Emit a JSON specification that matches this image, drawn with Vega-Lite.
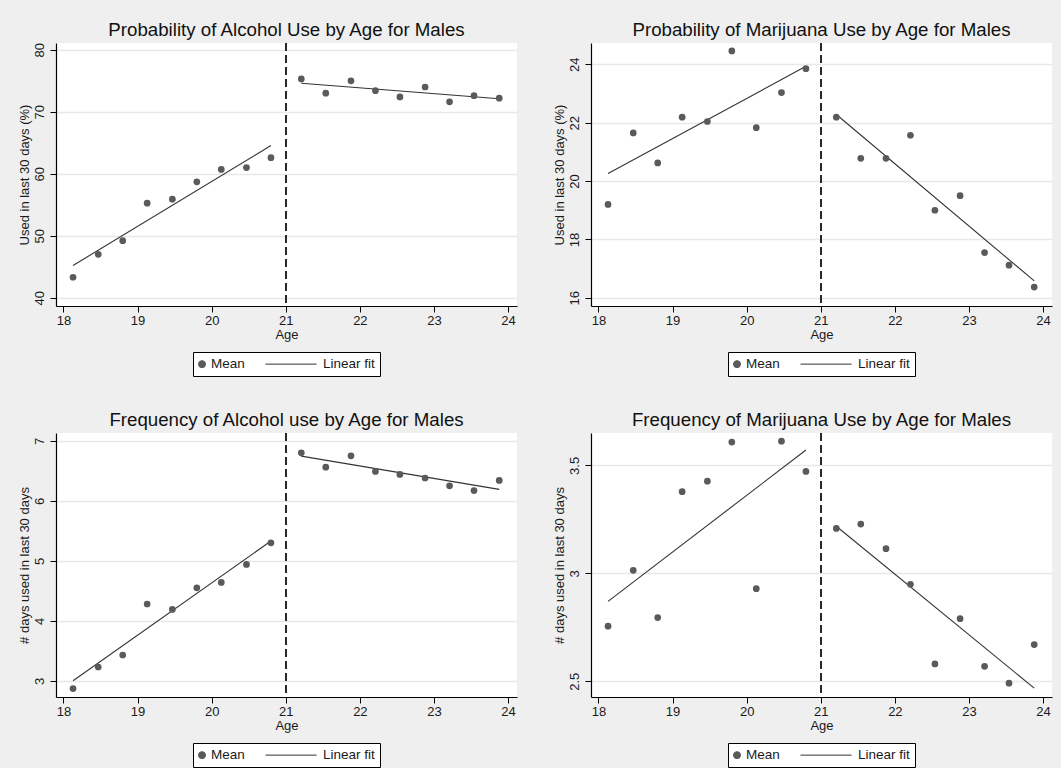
{
  "$schema": "https://vega.github.io/schema/vega-lite/v6.json",
  "background": "#efefef",
  "padding": {"left": 18, "top": 20, "right": 9, "bottom": 0},
  "columns": 2,
  "spacing": {"row": 33, "column": 35},
  "datasets": {
    "d": [
      {"p": "A", "k": "Mean", "age": 18.13, "v": 43.3},
      {"p": "A", "k": "Mean", "age": 18.47, "v": 47.0},
      {"p": "A", "k": "Mean", "age": 18.8, "v": 49.2},
      {"p": "A", "k": "Mean", "age": 19.13, "v": 55.25},
      {"p": "A", "k": "Mean", "age": 19.47, "v": 55.9},
      {"p": "A", "k": "Mean", "age": 19.8, "v": 58.7},
      {"p": "A", "k": "Mean", "age": 20.13, "v": 60.7},
      {"p": "A", "k": "Mean", "age": 20.47, "v": 61.0},
      {"p": "A", "k": "Mean", "age": 20.8, "v": 62.6},
      {"p": "A", "k": "Mean", "age": 21.21, "v": 75.3},
      {"p": "A", "k": "Mean", "age": 21.54, "v": 73.0},
      {"p": "A", "k": "Mean", "age": 21.88, "v": 75.0},
      {"p": "A", "k": "Mean", "age": 22.21, "v": 73.4},
      {"p": "A", "k": "Mean", "age": 22.54, "v": 72.4},
      {"p": "A", "k": "Mean", "age": 22.88, "v": 74.0},
      {"p": "A", "k": "Mean", "age": 23.21, "v": 71.6},
      {"p": "A", "k": "Mean", "age": 23.54, "v": 72.6},
      {"p": "A", "k": "Mean", "age": 23.88, "v": 72.2},
      {"p": "A", "k": "Linear fit", "s": "pre", "age": 18.13, "v": 45.2},
      {"p": "A", "k": "Linear fit", "s": "pre", "age": 20.8, "v": 64.55},
      {"p": "A", "k": "Linear fit", "s": "post", "age": 21.21, "v": 74.6},
      {"p": "A", "k": "Linear fit", "s": "post", "age": 23.88, "v": 72.1},

      {"p": "B", "k": "Mean", "age": 18.13, "v": 19.2},
      {"p": "B", "k": "Mean", "age": 18.47, "v": 21.65},
      {"p": "B", "k": "Mean", "age": 18.8, "v": 20.62},
      {"p": "B", "k": "Mean", "age": 19.13, "v": 22.19},
      {"p": "B", "k": "Mean", "age": 19.47, "v": 22.04},
      {"p": "B", "k": "Mean", "age": 19.8, "v": 24.46},
      {"p": "B", "k": "Mean", "age": 20.13, "v": 21.83},
      {"p": "B", "k": "Mean", "age": 20.47, "v": 23.03},
      {"p": "B", "k": "Mean", "age": 20.8, "v": 23.85},
      {"p": "B", "k": "Mean", "age": 21.21, "v": 22.19},
      {"p": "B", "k": "Mean", "age": 21.54, "v": 20.78},
      {"p": "B", "k": "Mean", "age": 21.88, "v": 20.78},
      {"p": "B", "k": "Mean", "age": 22.21, "v": 21.57},
      {"p": "B", "k": "Mean", "age": 22.54, "v": 19.0},
      {"p": "B", "k": "Mean", "age": 22.88, "v": 19.5},
      {"p": "B", "k": "Mean", "age": 23.21, "v": 17.55},
      {"p": "B", "k": "Mean", "age": 23.54, "v": 17.12},
      {"p": "B", "k": "Mean", "age": 23.88, "v": 16.37},
      {"p": "B", "k": "Linear fit", "s": "pre", "age": 18.13, "v": 20.26},
      {"p": "B", "k": "Linear fit", "s": "pre", "age": 20.8, "v": 23.93},
      {"p": "B", "k": "Linear fit", "s": "post", "age": 21.21, "v": 22.28},
      {"p": "B", "k": "Linear fit", "s": "post", "age": 23.88, "v": 16.58},

      {"p": "C", "k": "Mean", "age": 18.13, "v": 2.87},
      {"p": "C", "k": "Mean", "age": 18.47, "v": 3.23},
      {"p": "C", "k": "Mean", "age": 18.8, "v": 3.43},
      {"p": "C", "k": "Mean", "age": 19.13, "v": 4.28},
      {"p": "C", "k": "Mean", "age": 19.47, "v": 4.19},
      {"p": "C", "k": "Mean", "age": 19.8, "v": 4.55},
      {"p": "C", "k": "Mean", "age": 20.13, "v": 4.64},
      {"p": "C", "k": "Mean", "age": 20.47, "v": 4.94},
      {"p": "C", "k": "Mean", "age": 20.8, "v": 5.30},
      {"p": "C", "k": "Mean", "age": 21.21, "v": 6.80},
      {"p": "C", "k": "Mean", "age": 21.54, "v": 6.56},
      {"p": "C", "k": "Mean", "age": 21.88, "v": 6.75},
      {"p": "C", "k": "Mean", "age": 22.21, "v": 6.49},
      {"p": "C", "k": "Mean", "age": 22.54, "v": 6.44},
      {"p": "C", "k": "Mean", "age": 22.88, "v": 6.38},
      {"p": "C", "k": "Mean", "age": 23.21, "v": 6.25},
      {"p": "C", "k": "Mean", "age": 23.54, "v": 6.17},
      {"p": "C", "k": "Mean", "age": 23.88, "v": 6.34},
      {"p": "C", "k": "Linear fit", "s": "pre", "age": 18.13, "v": 3.0},
      {"p": "C", "k": "Linear fit", "s": "pre", "age": 20.8, "v": 5.33},
      {"p": "C", "k": "Linear fit", "s": "post", "age": 21.21, "v": 6.745},
      {"p": "C", "k": "Linear fit", "s": "post", "age": 23.88, "v": 6.19},

      {"p": "D", "k": "Mean", "age": 18.13, "v": 2.755},
      {"p": "D", "k": "Mean", "age": 18.47, "v": 3.014},
      {"p": "D", "k": "Mean", "age": 18.8, "v": 2.795},
      {"p": "D", "k": "Mean", "age": 19.13, "v": 3.378},
      {"p": "D", "k": "Mean", "age": 19.47, "v": 3.427},
      {"p": "D", "k": "Mean", "age": 19.8, "v": 3.608},
      {"p": "D", "k": "Mean", "age": 20.13, "v": 2.929},
      {"p": "D", "k": "Mean", "age": 20.47, "v": 3.612},
      {"p": "D", "k": "Mean", "age": 20.8, "v": 3.472},
      {"p": "D", "k": "Mean", "age": 21.21, "v": 3.208},
      {"p": "D", "k": "Mean", "age": 21.54, "v": 3.228},
      {"p": "D", "k": "Mean", "age": 21.88, "v": 3.114},
      {"p": "D", "k": "Mean", "age": 22.21, "v": 2.949},
      {"p": "D", "k": "Mean", "age": 22.54, "v": 2.58},
      {"p": "D", "k": "Mean", "age": 22.88, "v": 2.79},
      {"p": "D", "k": "Mean", "age": 23.21, "v": 2.569},
      {"p": "D", "k": "Mean", "age": 23.54, "v": 2.491},
      {"p": "D", "k": "Mean", "age": 23.88, "v": 2.67},
      {"p": "D", "k": "Linear fit", "s": "pre", "age": 18.13, "v": 2.87},
      {"p": "D", "k": "Linear fit", "s": "pre", "age": 20.8, "v": 3.571},
      {"p": "D", "k": "Linear fit", "s": "post", "age": 21.21, "v": 3.218},
      {"p": "D", "k": "Linear fit", "s": "post", "age": 23.88, "v": 2.468}
    ]
  },
  "concat": [
    {
      "width": 461, "height": 263,
      "title": "Probability of Alcohol Use by Age for Males",
      "data": {"name": "d"},
      "transform": [{"filter": "datum.p === 'A'"}],
      "layer": [
        {"mark": {"type": "rule", "strokeDash": [8, 4], "color": "#2a2a2a", "strokeWidth": 1},
         "encoding": {"x": {"datum": 21, "type": "quantitative", "scale": {"domain": [17.9, 24.12], "nice": false, "zero": false}, "axis": {"title": "Age", "values": [18, 19, 20, 21, 22, 23, 24], "format": "~g", "grid": false}}}},
        {"transform": [{"filter": "datum.k === 'Linear fit'"}],
         "mark": {"type": "line", "strokeWidth": 1.1},
         "encoding": {
           "x": {"field": "age", "type": "quantitative", "scale": {"domain": [17.9, 24.12], "nice": false, "zero": false}, "axis": {"title": "Age", "values": [18, 19, 20, 21, 22, 23, 24], "format": "~g", "grid": false}},
           "y": {"field": "v", "type": "quantitative", "scale": {"domain": [38.66, 81.1], "nice": false, "zero": false}, "axis": {"title": "Used in last 30 days (%)", "values": [40, 50, 60, 70, 80], "format": "~g"}},
           "detail": {"field": "s"},
           "color": {"field": "k", "type": "nominal", "scale": {"domain": ["Mean", "Linear fit"], "range": ["#5a5a5a", "#333333"]},
             "legend": {"encode": {
               "symbols": {"update": {
                 "shape": {"signal": "datum.value === 'Mean' ? 'circle' : 'M-1,0H13.6'"},
                 "fill": {"signal": "datum.value === 'Mean' ? '#5a5a5a' : 'transparent'"},
                 "stroke": {"signal": "datum.value === 'Mean' ? 'transparent' : '#333333'"},
                 "strokeWidth": {"value": 1},
                 "size": {"value": 49},
                 "opacity": {"value": 1},
                 "x": {"value": 4}
               }},
               "labels": {"update": {"x": {"signal": "datum.value === 'Mean' ? 13 : 58"}}}
             }}}
         }},
        {"transform": [{"filter": "datum.k === 'Mean'"}],
         "mark": {"type": "point", "filled": true, "size": 45, "opacity": 1},
         "encoding": {
           "x": {"field": "age", "type": "quantitative"},
           "y": {"field": "v", "type": "quantitative"},
           "color": {"field": "k", "type": "nominal"}
         }}
      ]
    },
    {
      "width": 461, "height": 263,
      "title": "Probability of Marijuana Use by Age for Males",
      "data": {"name": "d"},
      "transform": [{"filter": "datum.p === 'B'"}],
      "layer": [
        {"mark": {"type": "rule", "strokeDash": [8, 4], "color": "#2a2a2a", "strokeWidth": 1},
         "encoding": {"x": {"datum": 21, "type": "quantitative", "scale": {"domain": [17.9, 24.12], "nice": false, "zero": false}, "axis": {"title": "Age", "values": [18, 19, 20, 21, 22, 23, 24], "format": "~g", "grid": false}}}},
        {"transform": [{"filter": "datum.k === 'Linear fit'"}],
         "mark": {"type": "line", "strokeWidth": 1.1},
         "encoding": {
           "x": {"field": "age", "type": "quantitative", "scale": {"domain": [17.9, 24.12], "nice": false, "zero": false}, "axis": {"title": "Age", "values": [18, 19, 20, 21, 22, 23, 24], "format": "~g", "grid": false}},
           "y": {"field": "v", "type": "quantitative", "scale": {"domain": [15.72, 24.73], "nice": false, "zero": false}, "axis": {"title": "Used in last 30 days (%)", "values": [16, 18, 20, 22, 24], "format": "~g"}},
           "detail": {"field": "s"},
           "color": {"field": "k", "type": "nominal", "scale": {"domain": ["Mean", "Linear fit"], "range": ["#5a5a5a", "#333333"]},
             "legend": {"encode": {
               "symbols": {"update": {
                 "shape": {"signal": "datum.value === 'Mean' ? 'circle' : 'M-1,0H13.6'"},
                 "fill": {"signal": "datum.value === 'Mean' ? '#5a5a5a' : 'transparent'"},
                 "stroke": {"signal": "datum.value === 'Mean' ? 'transparent' : '#333333'"},
                 "strokeWidth": {"value": 1},
                 "size": {"value": 49},
                 "opacity": {"value": 1},
                 "x": {"value": 4}
               }},
               "labels": {"update": {"x": {"signal": "datum.value === 'Mean' ? 13 : 58"}}}
             }}}
         }},
        {"transform": [{"filter": "datum.k === 'Mean'"}],
         "mark": {"type": "point", "filled": true, "size": 45, "opacity": 1},
         "encoding": {
           "x": {"field": "age", "type": "quantitative"},
           "y": {"field": "v", "type": "quantitative"},
           "color": {"field": "k", "type": "nominal"}
         }}
      ]
    },
    {
      "width": 461, "height": 264,
      "title": "Frequency of Alcohol use by Age for Males",
      "data": {"name": "d"},
      "transform": [{"filter": "datum.p === 'C'"}],
      "layer": [
        {"mark": {"type": "rule", "strokeDash": [8, 4], "color": "#2a2a2a", "strokeWidth": 1},
         "encoding": {"x": {"datum": 21, "type": "quantitative", "scale": {"domain": [17.9, 24.12], "nice": false, "zero": false}, "axis": {"title": "Age", "values": [18, 19, 20, 21, 22, 23, 24], "format": "~g", "grid": false}}}},
        {"transform": [{"filter": "datum.k === 'Linear fit'"}],
         "mark": {"type": "line", "strokeWidth": 1.1},
         "encoding": {
           "x": {"field": "age", "type": "quantitative", "scale": {"domain": [17.9, 24.12], "nice": false, "zero": false}, "axis": {"title": "Age", "values": [18, 19, 20, 21, 22, 23, 24], "format": "~g", "grid": false}},
           "y": {"field": "v", "type": "quantitative", "scale": {"domain": [2.73, 7.13], "nice": false, "zero": false}, "axis": {"title": "# days used in last 30 days", "values": [3, 4, 5, 6, 7], "format": "~g"}},
           "detail": {"field": "s"},
           "color": {"field": "k", "type": "nominal", "scale": {"domain": ["Mean", "Linear fit"], "range": ["#5a5a5a", "#333333"]},
             "legend": {"encode": {
               "symbols": {"update": {
                 "shape": {"signal": "datum.value === 'Mean' ? 'circle' : 'M-1,0H13.6'"},
                 "fill": {"signal": "datum.value === 'Mean' ? '#5a5a5a' : 'transparent'"},
                 "stroke": {"signal": "datum.value === 'Mean' ? 'transparent' : '#333333'"},
                 "strokeWidth": {"value": 1},
                 "size": {"value": 49},
                 "opacity": {"value": 1},
                 "x": {"value": 4}
               }},
               "labels": {"update": {"x": {"signal": "datum.value === 'Mean' ? 13 : 58"}}}
             }}}
         }},
        {"transform": [{"filter": "datum.k === 'Mean'"}],
         "mark": {"type": "point", "filled": true, "size": 45, "opacity": 1},
         "encoding": {
           "x": {"field": "age", "type": "quantitative"},
           "y": {"field": "v", "type": "quantitative"},
           "color": {"field": "k", "type": "nominal"}
         }}
      ]
    },
    {
      "width": 461, "height": 264,
      "title": "Frequency of Marijuana Use by Age for Males",
      "data": {"name": "d"},
      "transform": [{"filter": "datum.p === 'D'"}],
      "layer": [
        {"mark": {"type": "rule", "strokeDash": [8, 4], "color": "#2a2a2a", "strokeWidth": 1},
         "encoding": {"x": {"datum": 21, "type": "quantitative", "scale": {"domain": [17.9, 24.12], "nice": false, "zero": false}, "axis": {"title": "Age", "values": [18, 19, 20, 21, 22, 23, 24], "format": "~g", "grid": false}}}},
        {"transform": [{"filter": "datum.k === 'Linear fit'"}],
         "mark": {"type": "line", "strokeWidth": 1.1},
         "encoding": {
           "x": {"field": "age", "type": "quantitative", "scale": {"domain": [17.9, 24.12], "nice": false, "zero": false}, "axis": {"title": "Age", "values": [18, 19, 20, 21, 22, 23, 24], "format": "~g", "grid": false}},
           "y": {"field": "v", "type": "quantitative", "scale": {"domain": [2.427, 3.65], "nice": false, "zero": false}, "axis": {"title": "# days used in last 30 days", "values": [2.5, 3, 3.5], "format": "~g"}},
           "detail": {"field": "s"},
           "color": {"field": "k", "type": "nominal", "scale": {"domain": ["Mean", "Linear fit"], "range": ["#5a5a5a", "#333333"]},
             "legend": {"encode": {
               "symbols": {"update": {
                 "shape": {"signal": "datum.value === 'Mean' ? 'circle' : 'M-1,0H13.6'"},
                 "fill": {"signal": "datum.value === 'Mean' ? '#5a5a5a' : 'transparent'"},
                 "stroke": {"signal": "datum.value === 'Mean' ? 'transparent' : '#333333'"},
                 "strokeWidth": {"value": 1},
                 "size": {"value": 49},
                 "opacity": {"value": 1},
                 "x": {"value": 4}
               }},
               "labels": {"update": {"x": {"signal": "datum.value === 'Mean' ? 13 : 58"}}}
             }}}
         }},
        {"transform": [{"filter": "datum.k === 'Mean'"}],
         "mark": {"type": "point", "filled": true, "size": 45, "opacity": 1},
         "encoding": {
           "x": {"field": "age", "type": "quantitative"},
           "y": {"field": "v", "type": "quantitative"},
           "color": {"field": "k", "type": "nominal"}
         }}
      ]
    }
  ],
  "resolve": {"scale": {"color": "independent"}},
  "config": {
    "font": "Liberation Sans",
    "view": {"fill": "white", "stroke": null},
    "title": {"fontSize": 18.7, "fontWeight": "normal", "color": "#111111", "anchor": "middle", "offset": 3, "font": "Liberation Sans"},
    "axis": {
      "domainColor": "#000000", "domainWidth": 1.2, "tickColor": "#000000", "tickSize": 6, "tickWidth": 1,
      "labelFontSize": 13, "titleFontSize": 13, "titleFontWeight": "normal",
      "labelColor": "#1a1a1a", "titleColor": "#1a1a1a", "labelFont": "Liberation Sans", "titleFont": "Liberation Sans",
      "gridColor": "#e8e8e8", "gridWidth": 1.5, "labelPadding": 2, "titlePadding": 2
    },
    "axisY": {"labelAngle": -90, "grid": true, "labelPadding": 4, "titlePadding": 2},
    "axisX": {"grid": false, "titlePadding": 1},
    "legend": {
      "orient": "bottom", "direction": "horizontal", "title": null,
      "fillColor": "white", "strokeColor": "#000000", "padding": 5,
      "labelFontSize": 13.5, "labelColor": "#1a1a1a", "labelFont": "Liberation Sans",
      "symbolType": "circle", "symbolSize": 49, "symbolStrokeWidth": 1,
      "columnPadding": 18, "labelOffset": 7, "offset": 11,
      "layout": {"bottom": {"anchor": "middle"}}
    }
  }
}
